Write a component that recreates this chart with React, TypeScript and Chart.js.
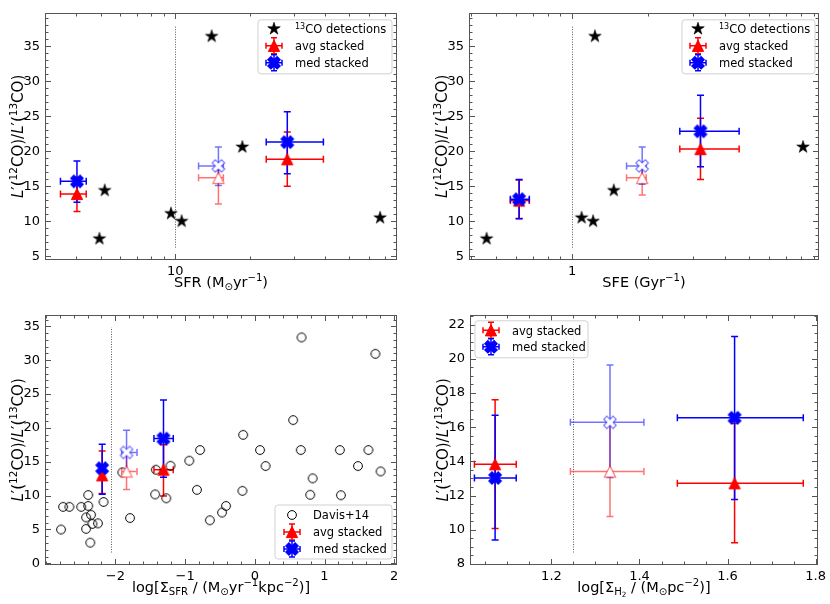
import React, { useEffect, useRef } from 'react';
import { Chart, registerables } from 'chart.js';
Chart.register(...registerables);

const FONT = '"DejaVu Sans", sans-serif';

// ---------- Panel 1: SFR ----------
const sfrStarX = [4.95, 5.2, 9.6, 10.6, 14.0, 18.6, 66.6];
const sfrStarY = [7.5, 14.4, 11.1, 10.0, 36.4, 20.6, 10.5];
const sfrBinX = [4.02, 14.9, 28.2];
const sfrBinXLo = [3.45, 12.4, 23.2];
const sfrBinXHi = [4.38, 15.6, 39.4];
const sfrAvgY = [13.9, 16.2, 18.85];
const sfrAvgLo = [11.4, 12.45, 15.0];
const sfrAvgHi = [16.3, 17.3, 22.75];
const sfrMedY = [15.7, 17.9, 21.3];
const sfrMedLo = [12.7, 15.1, 16.8];
const sfrMedHi = [18.6, 20.6, 25.65];
const sfrCut = 10;

// ---------- Panel 2: SFE ----------
const sfeStarX = [0.46, 1.09, 1.21, 1.23, 1.46, 8.15];
const sfeStarY = [7.5, 10.5, 10.0, 36.4, 14.4, 20.6];
const sfeBinX = [0.618, 1.89, 3.21];
const sfeBinXLo = [0.571, 1.64, 2.66];
const sfeBinXHi = [0.678, 1.96, 4.56];
const sfeAvgY = [12.95, 16.2, 20.3];
const sfeAvgLo = [10.4, 13.75, 15.95];
const sfeAvgHi = [15.9, 17.5, 24.7];
const sfeMedY = [13.15, 17.9, 22.85];
const sfeMedLo = [10.35, 15.3, 17.8];
const sfeMedHi = [15.95, 20.6, 28.0];
const sfeCut = 1;

// ---------- Panel 3: log Sigma_SFR ----------
const davisX = [-2.78, -2.75, -2.66, -2.49, -2.39, -2.39, -2.42, -2.35, -2.42, -2.33, -2.25, -2.36, -2.17,
  -1.90, -1.79, -1.42, -1.43, -1.27, -1.21, -0.94, -0.785, -0.83, -0.645, -0.47, -0.413, -0.167, -0.178,
  0.075, 0.155, 0.55, 0.67, 0.66, 0.83, 0.795, 1.22, 1.235, 1.48, 1.63, 1.73, 1.805];
const davisY = [4.99, 8.34, 8.34, 8.34, 10.08, 8.48, 6.78, 7.17, 5.09, 5.82, 5.9, 3.05, 9.06,
  13.43, 6.69, 13.82, 10.18, 9.6, 14.4, 15.15, 16.73, 10.85, 6.35, 7.5, 8.48, 18.97, 10.7,
  16.73, 14.37, 21.15, 33.36, 16.73, 12.55, 10.12, 16.73, 10.06, 14.37, 16.73, 30.93, 13.57];
const ssfrBinX = [-2.19, -1.84, -1.31];
const ssfrBinXLo = [-2.215, -1.91, -1.447];
const ssfrBinXHi = [-2.165, -1.69, -1.17];
const ssfrAvgY = [12.99, 13.57, 13.82];
const ssfrAvgLo = [10.3, 10.91, 9.94];
const ssfrAvgHi = [16.58, 16.2, 17.5];
const ssfrMedY = [14.05, 16.38, 18.42];
const ssfrMedLo = [10.2, 13.3, 12.7];
const ssfrMedHi = [17.6, 19.64, 24.1];
const ssfrCut = -2.06;

// ---------- Panel 4: log Sigma_H2 ----------
const sh2BinX = [1.072, 1.333, 1.616];
const sh2BinXLo = [1.025, 1.243, 1.486];
const sh2BinXHi = [1.12, 1.41, 1.772];
const sh2AvgY = [13.83, 13.41, 12.72];
const sh2AvgLo = [10.07, 10.77, 9.24];
const sh2AvgHi = [17.6, 16.3, 16.22];
const sh2MedY = [13.03, 16.28, 16.55];
const sh2MedLo = [9.4, 13.05, 11.77];
const sh2MedHi = [16.7, 19.63, 21.3];
const sh2Cut = 1.25;

const binOpen = [false, true, false];

// tick labels
const ratioTicksA = [5, 10, 15, 20, 25, 30, 35];
const ratioTicksB = [0, 5, 10, 15, 20, 25, 30, 35];
const ratioTicksC = [8, 10, 12, 14, 16, 18, 20, 22];
const sfrTicks = [10];
const sfeTicks = [1];
const ssfrTicks = [-2, -1, 0, 1, 2];
const sh2Ticks = [1.2, 1.4, 1.6, 1.8];

type Seg = { t: string; s?: 'n' | 'i' | 'sup' | 'sub' | 'ss' };

const yTitle: Seg[] = [
  { t: 'L', s: 'i' }, { t: '′(' }, { t: '12', s: 'sup' }, { t: 'CO)/' },
  { t: 'L', s: 'i' }, { t: '′(' }, { t: '13', s: 'sup' }, { t: 'CO)' },
];

const RED = '#ff0000';
const BLUE = '#0000ff';
const RED_A = 'rgba(255,0,0,0.55)';
const BLUE_A = 'rgba(0,0,255,0.55)';

function segFont(seg: Seg, size: number) {
  const k = seg.s === 'sup' || seg.s === 'sub' ? 0.7 : seg.s === 'ss' ? 0.5 : 1;
  const st = seg.s === 'i' ? 'italic ' : '';
  const dy = seg.s === 'sup' ? -size * 0.38 : seg.s === 'sub' ? size * 0.2 : seg.s === 'ss' ? size * 0.33 : 0;
  return { font: `${st}${(size * k).toFixed(2)}px ${FONT}`, dy };
}
function richWidth(ctx: CanvasRenderingContext2D, segs: Seg[], size: number) {
  let w = 0;
  for (const s of segs) { ctx.font = segFont(s, size).font; w += ctx.measureText(s.t).width; }
  return w;
}
function drawRich(ctx: CanvasRenderingContext2D, segs: Seg[], x: number, y: number, size: number, center: boolean) {
  let cx = center ? x - richWidth(ctx, segs, size) / 2 : x;
  ctx.textAlign = 'left';
  ctx.textBaseline = 'alphabetic';
  ctx.fillStyle = '#000';
  for (const s of segs) {
    const f = segFont(s, size);
    ctx.font = f.font;
    ctx.fillText(s.t, cx, y + f.dy);
    cx += ctx.measureText(s.t).width;
  }
}

type Kind = 'star' | 'tri' | 'x' | 'circle';
function markPath(ctx: CanvasRenderingContext2D, kind: Kind, x: number, y: number, r: number) {
  ctx.beginPath();
  if (kind === 'star') {
    const ri = r * 0.381966;
    for (let i = 0; i < 10; i++) {
      const a = -Math.PI / 2 + (i * Math.PI) / 5;
      const rr = i % 2 === 0 ? r : ri;
      const px = x + rr * Math.cos(a), py = y + rr * Math.sin(a);
      if (i) ctx.lineTo(px, py); else ctx.moveTo(px, py);
    }
    ctx.closePath();
  } else if (kind === 'tri') {
    ctx.moveTo(x, y - r); ctx.lineTo(x - r, y + r); ctx.lineTo(x + r, y + r); ctx.closePath();
  } else if (kind === 'x') {
    const pts = [[0.25, 0], [0.5, 0.25], [0.75, 0], [1, 0.25], [0.75, 0.5], [1, 0.75], [0.75, 1], [0.5, 0.75], [0.25, 1], [0, 0.75], [0.25, 0.5], [0, 0.25]];
    pts.forEach((p, i) => {
      const px = x + (p[0] - 0.5) * 2 * r, py = y + (p[1] - 0.5) * 2 * r;
      if (i) ctx.lineTo(px, py); else ctx.moveTo(px, py);
    });
    ctx.closePath();
  } else {
    ctx.arc(x, y, r, 0, Math.PI * 2);
  }
}
function drawMark(ctx: CanvasRenderingContext2D, kind: Kind, x: number, y: number, r: number, fill: string | null, stroke: string | null, lw: number) {
  markPath(ctx, kind, x, y, r);
  if (fill) { ctx.fillStyle = fill; ctx.fill(); }
  if (stroke) { ctx.lineWidth = lw; ctx.strokeStyle = stroke; ctx.stroke(); }
}
function markCanvas(kind: Kind, r: number, fill: string | null, stroke: string | null, lw: number) {
  const S = 2 * Math.ceil(r + lw + 1);
  const c = document.createElement('canvas');
  c.width = S; c.height = S;
  const ctx = c.getContext('2d')!;
  drawMark(ctx, kind, S / 2, S / 2, r, fill, stroke, lw);
  return c;
}

const R_TRI = 5.6, R_X = 6.2, R_STAR = 6.6, R_CIRC = 4.4;

type Bins = { x: number[]; xlo: number[]; xhi: number[]; avg: number[]; avgLo: number[]; avgHi: number[]; med: number[]; medLo: number[]; medHi: number[] };
type Panel = {
  key: string; cx: number; cy: number; w: number; h: number;
  padL: number; padT: number; padR: number; padB: number;
  xType: 'logarithmic' | 'linear'; xMin: number; xMax: number; xMajor: number[]; xMinor: number[]; xFmt: (v: number) => string;
  yMin: number; yMax: number; yMajor: number[]; yMinor: number[];
  xTitle: Seg[]; cut: number;
  ref: { x: number[]; y: number[]; kind: Kind; label: Seg[] } | null;
  bins: Bins;
  legend: { x: (a: any) => number; y: (a: any) => number; w: number; h: number; rows: number[]; mx: number; tx: number };
};

function range(a: number, b: number, step: number) {
  const out: number[] = [];
  for (let v = a; v <= b + 1e-9; v += step) out.push(Math.round(v * 1000) / 1000);
  return out;
}
function logMinor(lo: number, hi: number) {
  const out: number[] = [];
  for (let e = Math.floor(Math.log10(lo)); e <= Math.ceil(Math.log10(hi)); e++)
    for (let k = 2; k < 10; k++) { const v = k * Math.pow(10, e); if (v >= lo && v <= hi) out.push(v); }
  return out;
}
const fmtMinus = (v: number) => (v < 0 ? '−' + Math.abs(v) : String(v));

const panels: Panel[] = [
  {
    key: 'sfr', cx: 0, cy: 0, w: 415, h: 302, padL: 45, padT: 5, padR: 18, padB: 42,
    xType: 'logarithmic', xMin: 2.99, xMax: 77.9, xMajor: sfrTicks, xMinor: logMinor(2.99, 77.9), xFmt: (v) => String(v),
    yMin: 4.47, yMax: 39.76, yMajor: ratioTicksA, yMinor: range(5, 39, 1),
    xTitle: [{ t: 'SFR (M' }, { t: '⊙', s: 'sub' }, { t: 'yr' }, { t: '−1', s: 'sup' }, { t: ')' }],
    cut: sfrCut,
    ref: { x: sfrStarX, y: sfrStarY, kind: 'star', label: [{ t: '13', s: 'sup' }, { t: 'CO detections' }] },
    bins: { x: sfrBinX, xlo: sfrBinXLo, xhi: sfrBinXHi, avg: sfrAvgY, avgLo: sfrAvgLo, avgHi: sfrAvgHi, med: sfrMedY, medLo: sfrMedLo, medHi: sfrMedHi },
    legend: { x: (a) => a.right - 5 - 134, y: (a) => a.top + 7, w: 134, h: 54, rows: [9, 26, 43], mx: 16, tx: 37 },
  },
  {
    key: 'sfe', cx: 415, cy: 0, w: 415, h: 302, padL: 54, padT: 5, padR: 11, padB: 42,
    xType: 'logarithmic', xMin: 0.392, xMax: 9.42, xMajor: sfeTicks, xMinor: logMinor(0.392, 9.42), xFmt: (v) => String(v),
    yMin: 4.47, yMax: 39.76, yMajor: ratioTicksA, yMinor: range(5, 39, 1),
    xTitle: [{ t: 'SFE (Gyr' }, { t: '−1', s: 'sup' }, { t: ')' }],
    cut: sfeCut,
    ref: { x: sfeStarX, y: sfeStarY, kind: 'star', label: [{ t: '13', s: 'sup' }, { t: 'CO detections' }] },
    bins: { x: sfeBinX, xlo: sfeBinXLo, xhi: sfeBinXHi, avg: sfeAvgY, avgLo: sfeAvgLo, avgHi: sfeAvgHi, med: sfeMedY, medLo: sfeMedLo, medHi: sfeMedHi },
    legend: { x: (a) => a.right - 4 - 133, y: (a) => a.top + 7, w: 133, h: 54, rows: [9, 26, 43], mx: 16, tx: 37 },
  },
  {
    key: 'ssfr', cx: 0, cy: 302, w: 415, h: 302, padL: 45, padT: 9, padR: 18, padB: 39,
    xType: 'linear', xMin: -3.01, xMax: 2.04, xMajor: ssfrTicks, xMinor: range(-3.0, 2.0, 0.2), xFmt: fmtMinus,
    yMin: -0.25, yMax: 36.7, yMajor: ratioTicksB, yMinor: range(0, 36, 1),
    xTitle: [{ t: 'log[Σ' }, { t: 'SFR', s: 'sub' }, { t: ' / (M' }, { t: '⊙', s: 'sub' }, { t: 'yr' }, { t: '−1', s: 'sup' }, { t: 'kpc' }, { t: '−2', s: 'sup' }, { t: ')]' }],
    cut: ssfrCut,
    ref: { x: davisX, y: davisY, kind: 'circle', label: [{ t: 'Davis+14' }] },
    bins: { x: ssfrBinX, xlo: ssfrBinXLo, xhi: ssfrBinXHi, avg: ssfrAvgY, avgLo: ssfrAvgLo, avgHi: ssfrAvgHi, med: ssfrMedY, medLo: ssfrMedLo, medHi: ssfrMedHi },
    legend: { x: (a) => a.right - 5 - 117, y: (a) => a.bottom - 6 - 54, w: 117, h: 54, rows: [10, 27, 44], mx: 17, tx: 38 },
  },
  {
    key: 'sh2', cx: 415, cy: 302, w: 415, h: 302, padL: 55, padT: 9, padR: 11, padB: 39,
    xType: 'linear', xMin: 1.015, xMax: 1.805, xMajor: sh2Ticks, xMinor: range(1.05, 1.8, 0.05), xFmt: (v) => v.toFixed(1),
    yMin: 7.94, yMax: 22.57, yMajor: ratioTicksC, yMinor: range(8, 22.5, 0.5),
    xTitle: [{ t: 'log[Σ' }, { t: 'H', s: 'sub' }, { t: '2', s: 'ss' }, { t: ' / (M' }, { t: '⊙', s: 'sub' }, { t: 'pc' }, { t: '−2', s: 'sup' }, { t: ')]' }],
    cut: sh2Cut,
    ref: null,
    bins: { x: sh2BinX, xlo: sh2BinXLo, xhi: sh2BinXHi, avg: sh2AvgY, avgLo: sh2AvgLo, avgHi: sh2AvgHi, med: sh2MedY, medLo: sh2MedLo, medHi: sh2MedHi },
    legend: { x: (a) => a.left + 5, y: (a) => a.top + 6, w: 113, h: 37, rows: [9.5, 26], mx: 16, tx: 37 },
  },
];

function errBar(ctx: CanvasRenderingContext2D, xs: any, ys: any, x: number, y: number, xlo: number, xhi: number, ylo: number, yhi: number, color: string) {
  const px = xs.getPixelForValue(x), py = ys.getPixelForValue(y);
  const pxl = xs.getPixelForValue(xlo), pxh = xs.getPixelForValue(xhi);
  const pyl = ys.getPixelForValue(ylo), pyh = ys.getPixelForValue(yhi);
  const cap = 3.5;
  ctx.strokeStyle = color;
  ctx.lineWidth = 1.5;
  ctx.beginPath();
  ctx.moveTo(pxl, py); ctx.lineTo(pxh, py);
  ctx.moveTo(px, pyl); ctx.lineTo(px, pyh);
  ctx.moveTo(pxl, py - cap); ctx.lineTo(pxl, py + cap);
  ctx.moveTo(pxh, py - cap); ctx.lineTo(pxh, py + cap);
  ctx.moveTo(px - cap, pyl); ctx.lineTo(px + cap, pyl);
  ctx.moveTo(px - cap, pyh); ctx.lineTo(px + cap, pyh);
  ctx.stroke();
}

function legendErr(ctx: CanvasRenderingContext2D, x: number, y: number, color: string) {
  const cap = 3, hx = 8, hy = 8;
  ctx.strokeStyle = color; ctx.lineWidth = 1.5;
  ctx.beginPath();
  ctx.moveTo(x - hx, y); ctx.lineTo(x + hx, y);
  ctx.moveTo(x, y - hy); ctx.lineTo(x, y + hy);
  ctx.moveTo(x - hx, y - cap); ctx.lineTo(x - hx, y + cap);
  ctx.moveTo(x + hx, y - cap); ctx.lineTo(x + hx, y + cap);
  ctx.moveTo(x - cap, y - hy); ctx.lineTo(x + cap, y - hy);
  ctx.moveTo(x - cap, y + hy); ctx.lineTo(x + cap, y + hy);
  ctx.stroke();
}

function PanelChart({ p }: { p: Panel }) {
  const ref = useRef<HTMLCanvasElement | null>(null);
  useEffect(() => {
    if (!ref.current) return;
    const triFill = markCanvas('tri', R_TRI, RED, RED, 1);
    const triOpen = markCanvas('tri', R_TRI, '#ffffff', RED_A, 1.2);
    const xFill = markCanvas('x', R_X, BLUE, BLUE, 1.2);
    const xOpen = markCanvas('x', R_X, '#ffffff', BLUE_A, 1.2);
    const refImg = p.ref
      ? p.ref.kind === 'star'
        ? markCanvas('star', R_STAR, '#000000', '#000000', 0.6)
        : markCanvas('circle', R_CIRC, null, '#000000', 1)
      : null;

    const datasets: any[] = [
      {
        label: 'med stacked', order: 0,
        data: p.bins.x.map((x, i) => ({ x, y: p.bins.med[i] })),
        pointStyle: binOpen.map((o) => (o ? xOpen : xFill)), pointRadius: 6,
      },
      {
        label: 'avg stacked', order: 1,
        data: p.bins.x.map((x, i) => ({ x, y: p.bins.avg[i] })),
        pointStyle: binOpen.map((o) => (o ? triOpen : triFill)), pointRadius: 6,
      },
    ];
    if (p.ref) {
      datasets.push({
        label: 'ref', order: 2,
        data: p.ref.x.map((x, i) => ({ x, y: p.ref!.y[i] })),
        pointStyle: refImg, pointRadius: 5,
      });
    }

    const plugin = {
      id: 'panelDeco' + p.key,
      beforeDatasetsDraw(chart: any) {
        const ctx: CanvasRenderingContext2D = chart.ctx;
        const a = chart.chartArea;
        const xs = chart.scales.x, ys = chart.scales.y;
        ctx.save();
        // threshold line
        const px = Math.round(xs.getPixelForValue(p.cut)) + 0.5;
        const hgt = a.bottom - a.top;
        ctx.strokeStyle = 'rgba(70,70,70,0.9)';
        ctx.lineWidth = 1;
        ctx.setLineDash([1, 1.5]);
        ctx.beginPath();
        ctx.moveTo(px, a.bottom - 0.05 * hgt);
        ctx.lineTo(px, a.top + 0.05 * hgt);
        ctx.stroke();
        ctx.setLineDash([]);
        const b = p.bins;
        for (let i = 0; i < b.x.length; i++)
          errBar(ctx, xs, ys, b.x[i], b.avg[i], b.xlo[i], b.xhi[i], b.avgLo[i], b.avgHi[i], binOpen[i] ? RED_A : RED);
        for (let i = 0; i < b.x.length; i++)
          errBar(ctx, xs, ys, b.x[i], b.med[i], b.xlo[i], b.xhi[i], b.medLo[i], b.medHi[i], binOpen[i] ? BLUE_A : BLUE);
        ctx.restore();
      },
      afterDraw(chart: any) {
        const ctx: CanvasRenderingContext2D = chart.ctx;
        const a = chart.chartArea;
        const xs = chart.scales.x, ys = chart.scales.y;
        ctx.save();
        const L = Math.round(a.left) + 0.5, R = Math.round(a.right) - 0.5;
        const T = Math.round(a.top) + 0.5, B = Math.round(a.bottom) - 0.5;
        ctx.strokeStyle = '#555';
        ctx.lineWidth = 1;
        ctx.beginPath();
        const tick = (v: number, len: number, horiz: boolean) => {
          if (horiz) {
            const q = Math.round(xs.getPixelForValue(v)) + 0.5;
            if (q < L + 1 || q > R - 1) return;
            ctx.moveTo(q, B); ctx.lineTo(q, B - len);
            ctx.moveTo(q, T); ctx.lineTo(q, T + len);
          } else {
            const q = Math.round(ys.getPixelForValue(v)) + 0.5;
            if (q < T + 1 || q > B - 1) return;
            ctx.moveTo(L, q); ctx.lineTo(L + len, q);
            ctx.moveTo(R, q); ctx.lineTo(R - len, q);
          }
        };
        p.xMinor.filter((v) => !p.xMajor.includes(v)).forEach((v) => tick(v, 3, true));
        p.xMajor.forEach((v) => tick(v, 5.5, true));
        p.yMinor.filter((v) => !p.yMajor.includes(v)).forEach((v) => tick(v, 3, false));
        p.yMajor.forEach((v) => tick(v, 5.5, false));
        ctx.stroke();
        ctx.strokeRect(L, T, R - L, B - T);

        // titles
        drawRich(ctx, p.xTitle, (a.left + a.right) / 2, a.bottom + 27, 14.5, true);
        ctx.save();
        ctx.translate(a.left - 27, (a.top + a.bottom) / 2);
        ctx.rotate(-Math.PI / 2);
        drawRich(ctx, yTitle, 0, 5, 15, true);
        ctx.restore();

        // legend
        const lg = p.legend;
        const lx = lg.x(a), ly = lg.y(a);
        ctx.beginPath();
        const rr = 3;
        ctx.moveTo(lx + rr, ly);
        ctx.arcTo(lx + lg.w, ly, lx + lg.w, ly + lg.h, rr);
        ctx.arcTo(lx + lg.w, ly + lg.h, lx, ly + lg.h, rr);
        ctx.arcTo(lx, ly + lg.h, lx, ly, rr);
        ctx.arcTo(lx, ly, lx + lg.w, ly, rr);
        ctx.closePath();
        ctx.fillStyle = 'rgba(255,255,255,0.8)';
        ctx.fill();
        ctx.strokeStyle = 'rgba(204,204,204,0.9)';
        ctx.lineWidth = 1;
        ctx.stroke();
        const items: { draw: (x: number, y: number) => void; label: Seg[] }[] = [];
        if (p.ref) {
          const kind = p.ref.kind;
          items.push({
            draw: (x, y) => kind === 'star'
              ? drawMark(ctx, 'star', x, y, R_STAR, '#000', '#000', 0.6)
              : drawMark(ctx, 'circle', x, y, R_CIRC, null, '#000', 1),
            label: p.ref.label,
          });
        }
        items.push({ draw: (x, y) => { legendErr(ctx, x, y, RED); drawMark(ctx, 'tri', x, y, R_TRI, RED, RED, 1); }, label: [{ t: 'avg stacked' }] });
        items.push({ draw: (x, y) => { legendErr(ctx, x, y, BLUE); drawMark(ctx, 'x', x, y, R_X, BLUE, BLUE, 1.2); }, label: [{ t: 'med stacked' }] });
        items.forEach((it, i) => {
          const yy = ly + lg.rows[i];
          it.draw(lx + lg.mx, yy);
          drawRich(ctx, it.label, lx + lg.tx, yy + 4.2, 11.5, false);
        });
        ctx.restore();
      },
    };

    const chart = new Chart(ref.current, {
      type: 'scatter',
      data: { datasets },
      options: {
        animation: false,
        responsive: false,
        maintainAspectRatio: false,
        events: [],
        layout: { padding: { left: 0, top: p.padT, right: p.padR, bottom: 0 } },
        plugins: { legend: { display: false }, tooltip: { enabled: false } },
        scales: {
          x: {
            type: p.xType, min: p.xMin, max: p.xMax, position: 'bottom',
            grid: { display: false, drawTicks: false }, border: { display: false },
            afterBuildTicks: (s: any) => { s.ticks = p.xMajor.map((v) => ({ value: v })); },
            afterFit: (s: any) => { s.height = p.padB; },
            ticks: { font: { family: FONT, size: 13 }, color: '#000', padding: 4, maxRotation: 0, autoSkip: false, callback: (v: any) => p.xFmt(Number(v)) },
          },
          y: {
            type: 'linear', min: p.yMin, max: p.yMax, position: 'left',
            grid: { display: false, drawTicks: false }, border: { display: false },
            afterBuildTicks: (s: any) => { s.ticks = p.yMajor.map((v) => ({ value: v })); },
            afterFit: (s: any) => { s.width = p.padL; },
            ticks: { font: { family: FONT, size: 13 }, color: '#000', padding: 5, autoSkip: false, callback: (v: any) => String(v) },
          },
        },
      } as any,
      plugins: [plugin],
    });
    return () => chart.destroy();
  }, [p]);
  return (
    <canvas
      ref={ref}
      width={p.w}
      height={p.h}
      style={{ position: 'absolute', left: p.cx, top: p.cy, width: p.w, height: p.h }}
    />
  );
}

export default function App() {
  return (
    <div style={{ position: 'absolute', left: 0, top: 0, width: 830, height: 604, background: '#fff', overflow: 'hidden' }}>
      {panels.map((p) => (
        <PanelChart key={p.key} p={p} />
      ))}
    </div>
  );
}
